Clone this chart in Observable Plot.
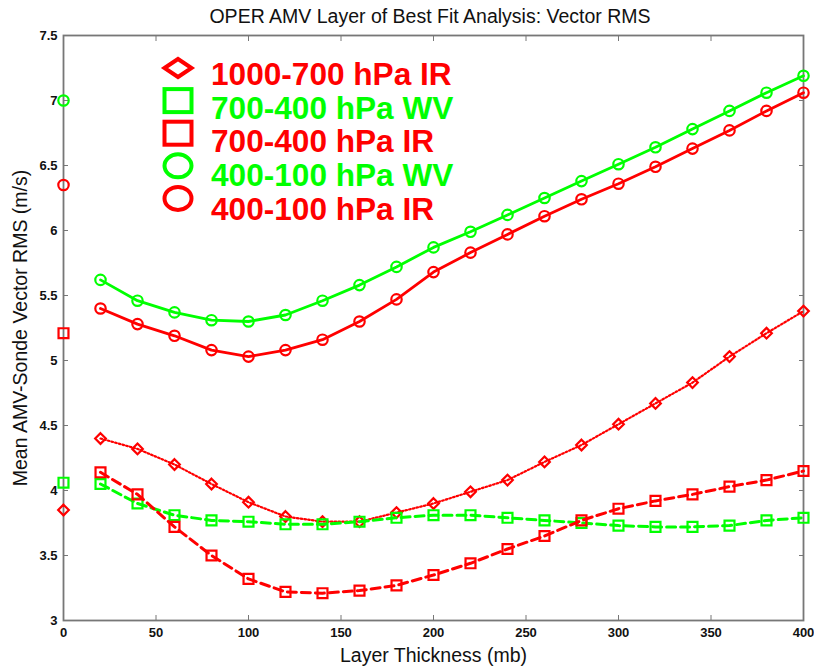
<!DOCTYPE html>
<html><head><meta charset="utf-8">
<script src="https://cdn.jsdelivr.net/npm/d3@7"></script>
<script src="https://cdn.jsdelivr.net/npm/@observablehq/plot@0.6"></script>
<style>
body{margin:0;background:#fff;}
#wrap{position:relative;width:814px;height:668px;font-family:"Liberation Sans",Arial,sans-serif;}
#title{position:absolute;left:60px;width:740px;top:7px;text-align:center;font-size:19.5px;line-height:1;color:#111;white-space:nowrap;}
#wrap svg.plot{position:absolute;left:0;top:0;}
[aria-label="x-axis tick label"] text,[aria-label="y-axis tick label"] text{font-size:13px;font-weight:bold;fill:#111;}
[aria-label="x-axis label"] text,[aria-label="y-axis label"] text{font-size:19.5px;font-weight:normal;fill:#111;}
</style></head><body>
<div id="wrap"><div id="title">OPER AMV Layer of Best Fit Analysis: Vector RMS</div></div>
<script>
// Layer thickness (mb)
const thickness = [20,40,60,80,100,120,140,160,180,200,220,240,260,280,300,320,340,360,380,400];
// Series values (m/s)
const ir1000_700 = [4.40,4.32,4.20,4.05,3.91,3.80,3.76,3.76,3.83,3.90,3.99,4.08,4.22,4.35,4.51,4.67,4.83,5.03,5.21,5.38];
const wv700_400  = [4.05,3.90,3.81,3.77,3.76,3.74,3.74,3.76,3.79,3.81,3.81,3.79,3.77,3.75,3.73,3.72,3.72,3.73,3.77,3.79];
const ir700_400  = [4.14,3.97,3.72,3.50,3.32,3.22,3.21,3.23,3.27,3.35,3.44,3.55,3.65,3.77,3.86,3.92,3.97,4.03,4.08,4.15];
const wv400_100  = [5.62,5.46,5.37,5.31,5.30,5.35,5.46,5.58,5.72,5.87,5.99,6.12,6.25,6.38,6.51,6.64,6.78,6.92,7.06,7.19];
const ir400_100  = [5.40,5.28,5.19,5.08,5.03,5.08,5.16,5.30,5.47,5.68,5.83,5.97,6.11,6.24,6.36,6.49,6.63,6.77,6.92,7.06];
// Values at zero thickness (isolated markers), same series order
const zeroThickness = [0];
const zeroValues = [3.85, 4.06, 5.21, 7.00, 6.35];
// Series names
const seriesNames = ["1000-700 hPa IR","700-400 hPa WV","700-400 hPa IR","400-100 hPa WV","400-100 hPa IR"];
// Tick values
const xTicks = [0,50,100,150,200,250,300,350,400];
const yTicks = [3,3.5,4,4.5,5,5.5,6,6.5,7,7.5];

// Styles (kept apart from the data)
const RED = "#ff0000", GREEN = "#00ff00";
const styles = [
  {color: RED,   symbol: "diamond2", dash: "1.6,2.2", width: 2.2, r: 4.8},
  {color: GREEN, symbol: "square",   dash: "9,5",     width: 3,   r: 5.6},
  {color: RED,   symbol: "square",   dash: "9,5",     width: 3,   r: 5.6},
  {color: GREEN, symbol: "circle",   dash: null,      width: 2.8, r: 5.2},
  {color: RED,   symbol: "circle",   dash: null,      width: 2.8, r: 5.2}
];
const seriesValues = [ir1000_700, wv700_400, ir700_400, wv400_100, ir400_100];

const marks = [];
seriesValues.forEach((vals, k) => {
  const st = styles[k];
  const rows = thickness.map((x, i) => ({x, y: vals[i], series: seriesNames[k]}));
  const lineOpts = {x: "x", y: "y", stroke: st.color, strokeWidth: st.width};
  if (st.dash) lineOpts.strokeDasharray = st.dash;
  marks.push(Plot.line(rows, lineOpts));
  marks.push(Plot.dot(rows, {x: "x", y: "y", stroke: st.color, symbol: st.symbol, r: st.r, strokeWidth: 2.2, fill: "none"}));
  marks.push(Plot.dot(zeroThickness.map(x => ({x, y: zeroValues[k]})), {x: "x", y: "y", stroke: st.color, symbol: st.symbol, r: st.r, strokeWidth: 2.2, fill: "none"}));
});

const axisColor = "#777";
const chart = Plot.plot({
  width: 814, height: 668,
  marginLeft: 63, marginRight: 11, marginTop: 35, marginBottom: 48,
  style: {fontFamily: '"Liberation Sans", Arial, sans-serif', background: "transparent", overflow: "visible"},
  x: {domain: [0, 400]},
  y: {domain: [3, 7.5]},
  marks: [
    Plot.frame({stroke: axisColor, strokeWidth: 1.8}),
    // inward ticks on all four sides
    Plot.axisX({anchor: "bottom", ticks: xTicks, tickSize: 5, dy: -5, fill: "none", stroke: axisColor, label: null}),
    Plot.axisX({anchor: "top", ticks: xTicks, tickSize: 5, dy: 5, fill: "none", stroke: axisColor, label: null}),
    Plot.axisY({anchor: "left", ticks: yTicks, tickSize: 5, dx: 5, fill: "none", stroke: axisColor, label: null}),
    Plot.axisY({anchor: "right", ticks: yTicks, tickSize: 5, dx: -5, fill: "none", stroke: axisColor, label: null}),
    // tick labels and axis titles
    Plot.axisX({anchor: "bottom", ticks: xTicks, tickSize: 0, tickPadding: 7, tickFormat: d => String(d),
      label: "Layer Thickness (mb)", labelAnchor: "center", labelOffset: 41, labelArrow: "none"}),
    Plot.axisY({anchor: "left", ticks: yTicks, tickSize: 0, tickPadding: 6, tickFormat: d => String(d),
      label: "Mean AMV-Sonde Vector RMS (m/s)", labelAnchor: "center", labelOffset: 50, labelArrow: "none"}),
    ...marks
  ]
});
chart.classList.add("plot");
document.getElementById("wrap").appendChild(chart);

// Legend overlay (upper left, inside the axes)
const legendSvg = d3.select("#wrap").append("svg")
  .attr("width", 814).attr("height", 668)
  .style("position", "absolute").style("left", "0px").style("top", "0px")
  .style("pointer-events", "none");
seriesNames.forEach((name, i) => {
  const st = styles[i];
  const cx = 178, cy = 68 + 32.6 * i;
  const g = legendSvg.append("g").attr("fill", "none").attr("stroke", st.color).attr("stroke-width", 4);
  if (st.symbol === "diamond2") {
    g.append("path").attr("d", `M${cx - 13.5},${cy} L${cx},${cy - 9} L${cx + 13.5},${cy} L${cx},${cy + 9} Z`);
  } else if (st.symbol === "square") {
    g.append("rect").attr("x", cx - 13.5).attr("y", cy - 11.5).attr("width", 27).attr("height", 23);
  } else {
    g.append("ellipse").attr("cx", cx).attr("cy", cy).attr("rx", 13.5).attr("ry", 11.5);
  }
  legendSvg.append("text")
    .attr("x", 211).attr("y", 85 + 33.7 * i)
    .attr("fill", st.color)
    .style("font-family", '"Liberation Sans", Arial, sans-serif')
    .style("font-weight", "bold").style("font-size", "31.6px")
    .text(name);
});
</script>
</body></html>
